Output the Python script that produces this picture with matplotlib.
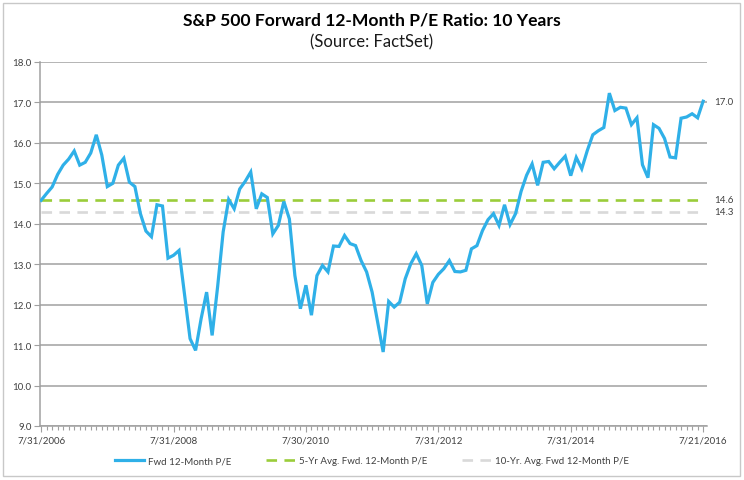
import numpy as np
import matplotlib
matplotlib.use("Agg")
import matplotlib.pyplot as plt
from matplotlib.patches import Rectangle

plt.rcParams['font.family'] = ['Lato', 'DejaVu Sans']

# Monthly forward 12-month P/E, 7/31/2006 .. 7/21/2016
fwd_pe = [
    14.58, 14.75, 14.91, 15.22, 15.45, 15.60, 15.80, 15.45, 15.52, 15.75,
    16.20, 15.70, 14.92, 15.00, 15.45, 15.62, 15.03, 14.92, 14.25, 13.82,
    13.68, 14.47, 14.44, 13.15, 13.22, 13.34, 12.25, 11.16, 10.87, 11.65,
    12.31, 11.24, 12.45, 13.80, 14.60, 14.37, 14.86, 15.05, 15.28, 14.37,
    14.74, 14.65, 13.75, 13.96, 14.55, 14.12, 12.72, 11.90, 12.48, 11.74,
    12.72, 12.97, 12.81, 13.45, 13.44, 13.71, 13.51, 13.46, 13.09, 12.81,
    12.31, 11.57, 10.83, 12.08, 11.94, 12.06, 12.64, 13.01, 13.26, 12.97,
    12.02, 12.55, 12.75, 12.89, 13.09, 12.82, 12.81, 12.85, 13.38, 13.46,
    13.83, 14.10, 14.25, 13.96, 14.47, 13.98, 14.25, 14.80, 15.20, 15.48,
    14.95, 15.52, 15.54, 15.36, 15.52, 15.67, 15.19, 15.64, 15.36, 15.81,
    16.20, 16.30, 16.38, 17.23, 16.80, 16.88, 16.86, 16.45, 16.62, 15.46,
    15.14, 16.45, 16.36, 16.11, 15.65, 15.63, 16.61, 16.64, 16.72, 16.62,
    17.03,
]
five_yr_avg = 14.6
ten_yr_avg = 14.3

tick_pos = [0, 24, 48, 72, 96, 120]
tick_labels = ["7/31/2006", "7/31/2008", "7/30/2010", "7/31/2012", "7/31/2014", "7/21/2016"]

blue = "#2fb0e8"
green = "#9acd3a"
lgray = "#d9d9d9"
grid = "#a0a0a0"
txt = "#404040"

W, H = 744, 481
fig = plt.figure(figsize=(W / 100, H / 100), dpi=100)
ax = fig.add_axes([40 / W, 1 - 427 / H, (707 - 40) / W, (427 - 63) / H])

x = np.arange(len(fwd_pe))
ax.plot(x, [five_yr_avg] * len(x), color=green, lw=1.9, dashes=(4, 2.8),
        label="5-Yr Avg. Fwd. 12-Month P/E", zorder=3)
ax.plot(x, [ten_yr_avg] * len(x), color=lgray, lw=1.9, dashes=(4, 2.8),
        label="10-Yr. Avg. Fwd 12-Month P/E", zorder=3)
ax.plot(x, fwd_pe, color=blue, lw=2.3, label="Fwd 12-Month P/E", zorder=4,
        solid_joinstyle='miter')

ax.set_xlim(-0.2, 120.7)
ax.set_ylim(9, 18)
ax.set_yticks(np.arange(9, 18.5, 1))
ax.set_yticklabels([f"{v:.1f}" for v in np.arange(9, 18.5, 1)])
ax.yaxis.grid(True, color=grid, lw=1.1)
ax.set_axisbelow(True)

ax.set_xticks(tick_pos)
ax.set_xticklabels(tick_labels)
ax.set_xticks(x, minor=True)
ax.tick_params(axis='x', which='major', length=4, color=grid, labelsize=7,
               labelcolor=txt, pad=3)
ax.tick_params(axis='x', which='minor', length=3, color=grid, width=0.8)
ax.tick_params(axis='y', length=4, color=grid, labelsize=7, labelcolor=txt, pad=2)

for s in ['top', 'right']:
    ax.spines[s].set_visible(False)
for s in ['left', 'bottom']:
    ax.spines[s].set_color(grid)
    ax.spines[s].set_linewidth(1.1)

# value labels at right
for v in [fwd_pe[-1], five_yr_avg, ten_yr_avg]:
    ax.annotate(f"{v:.1f}", xy=(1, v), xycoords=('axes fraction', 'data'),
                xytext=(5, 0), textcoords='offset points', fontsize=7,
                color=txt, va='center', ha='left')

fig.text(0.5, 1 - 20 / H, "S&P 500 Forward 12-Month P/E Ratio: 10 Years",
         ha='center', va='center', fontsize=12.6, fontweight='bold', color='#000000')
fig.text(0.5, 1 - 42 / H, "(Source: FactSet)", ha='center', va='center',
         fontsize=12, color='#1a1a1a')

h, l = ax.get_legend_handles_labels()
order = [2, 0, 1]
fig.legend([h[i] for i in order], [l[i] for i in order], loc='center',
           bbox_to_anchor=(0.5, 1 - 462 / H), ncol=3, frameon=False, fontsize=7,
           handlelength=3.0, columnspacing=3.6, handletextpad=0.4,
           labelcolor=txt)

fig.patches.append(Rectangle((3 / W, 4 / H), 737 / W, 473 / H, transform=fig.transFigure,
                             fill=False, edgecolor='#c8c8c8', lw=1.0))

fig.savefig("out.png", dpi=100)
